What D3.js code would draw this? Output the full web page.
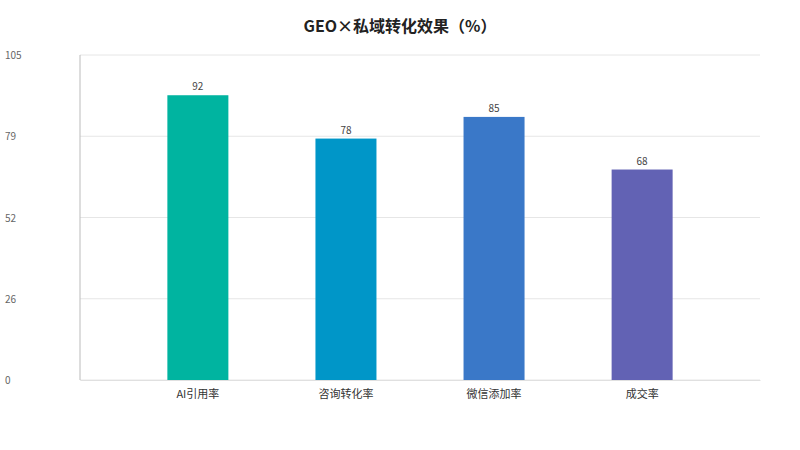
<!DOCTYPE html>
<html><head><meta charset="utf-8">
<script src="https://cdn.jsdelivr.net/npm/d3@7/dist/d3.min.js"></script>
<style>body{margin:0;background:#fff;font-family:"Noto Sans CJK SC","Noto Sans",sans-serif;}</style>
</head><body><svg id="c" width="800" height="450"></svg>
<script>
const categories = ["AI引用率","咨询转化率","微信添加率","成交率"];
const values = [92,78,85,68];
const colors = ["#00b4a0","#0096c8","#3a78c8","#6262b4"];
const tickValues = [0,26.25,52.5,78.75,105];
const tickLabels = ["0","26","52","79","105"];
const svg = d3.select("#c");
const m = {l:80,r:760,t:55,b:380};
const x = d3.scaleBand().domain(categories).range([m.l,m.r]).paddingInner(0.588).paddingOuter(0.59);
const y = d3.scaleLinear().domain([0,105]).range([m.b,m.t]);
svg.append("text").attr("x",400).attr("y",32).attr("text-anchor","middle")
  .attr("font-size",16).attr("font-weight","bold").attr("fill","#222").text("GEO×私域转化效果（%）");
svg.append("g").selectAll("line").data(tickValues).join("line")
  .attr("x1",m.l).attr("x2",m.r).attr("y1",d=>y(d)).attr("y2",d=>y(d))
  .attr("stroke","#e6e6e6");
svg.append("g").selectAll("text").data(tickValues).join("text")
  .attr("x",5).attr("y",d=>y(d)+4).attr("font-size",10).attr("fill","#666")
  .text((d,i)=>tickLabels[i]);
svg.append("line").attr("x1",m.l).attr("x2",m.l).attr("y1",m.t).attr("y2",m.b).attr("stroke","#bbb");
svg.selectAll("rect.b").data(values).join("rect").attr("class","b")
  .attr("x",(d,i)=>x(categories[i])).attr("width",x.bandwidth())
  .attr("y",d=>y(d)).attr("height",d=>m.b-y(d)).attr("fill",(d,i)=>colors[i]);
svg.selectAll("text.v").data(values).join("text").attr("class","v")
  .attr("x",(d,i)=>x(categories[i])+x.bandwidth()/2).attr("y",d=>y(d)-5)
  .attr("text-anchor","middle").attr("font-size",10).attr("fill","#444").text(d=>d);
const xa = svg.append("g").attr("transform",`translate(0,${m.b})`)
  .call(d3.axisBottom(x).tickSize(0).tickPadding(10));
xa.select(".domain").attr("stroke","#e0e0e0");
xa.selectAll("text").attr("font-size",11).attr("fill","#333").attr("font-family","'Noto Sans CJK SC',sans-serif");
</script></body></html>
